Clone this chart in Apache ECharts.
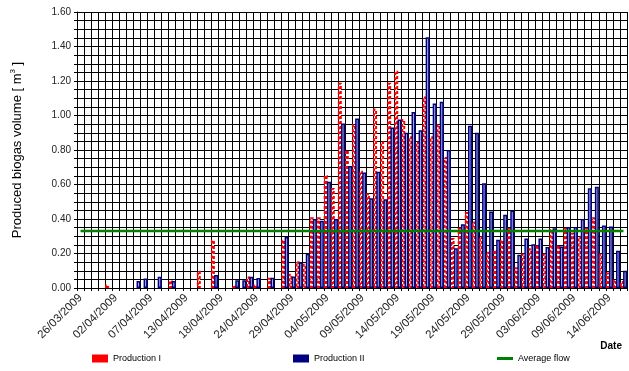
<!DOCTYPE html>
<html>
<head>
<meta charset="utf-8">
<script src="https://cdn.jsdelivr.net/npm/echarts@6/dist/echarts.min.js"></script>
<style>
html,body{margin:0;padding:0;background:#fff}
#mainGraph{width:629px;height:371px}
</style>
</head>
<body>
<div id="mainGraph"></div>
<script>
// one entry per sampling day (some days are missing)
var dates = [
    '26/03/2009','27/03/2009','30/03/2009','31/03/2009','01/04/2009',
    '02/04/2009','03/04/2009','04/04/2009','05/04/2009','06/04/2009',
    '07/04/2009','08/04/2009','09/04/2009','10/04/2009','11/04/2009',
    '13/04/2009','14/04/2009','15/04/2009','16/04/2009','17/04/2009',
    '18/04/2009','20/04/2009','21/04/2009','22/04/2009','23/04/2009',
    '24/04/2009','25/04/2009','26/04/2009','27/04/2009','28/04/2009',
    '29/04/2009','30/04/2009','01/05/2009','02/05/2009','03/05/2009',
    '04/05/2009','05/05/2009','06/05/2009','07/05/2009','08/05/2009',
    '09/05/2009','10/05/2009','11/05/2009','12/05/2009','13/05/2009',
    '14/05/2009','15/05/2009','16/05/2009','17/05/2009','18/05/2009',
    '19/05/2009','20/05/2009','21/05/2009','22/05/2009','23/05/2009',
    '24/05/2009','25/05/2009','26/05/2009','27/05/2009','28/05/2009',
    '29/05/2009','30/05/2009','31/05/2009','01/06/2009','02/06/2009',
    '03/06/2009','04/06/2009','05/06/2009','06/06/2009','08/06/2009',
    '09/06/2009','10/06/2009','11/06/2009','12/06/2009','13/06/2009',
    '14/06/2009','15/06/2009','16/06/2009'
];
var productionI = [
    0, 0, 0, 0, 0.02, 0, 0, 0, 0, 0,
    0, 0, 0, 0.045, 0, 0, 0, 0.10, 0, 0.28,
    0, 0, 0.015, 0, 0.067, 0.02, 0, 0.06, 0, 0.28,
    0.083, 0.155, 0.14, 0.41, 0.41, 0.655, 0.58, 1.19, 0.80, 0.95,
    0.68, 0.55, 1.04, 0.85, 1.19, 1.26, 0.98, 0.88, 0.85, 1.11,
    0.88, 0.95, 0.76, 0.29, 0.35, 0.44, 0.385, 0.30, 0.21, 0.22,
    0.28, 0.35, 0.12, 0.20, 0.23, 0.25, 0.20, 0.34, 0.25, 0.35,
    0.32, 0.30, 0.35, 0.41, 0.20, 0.09, 0.05, 0.04
];
var productionII = [
    0, 0, 0, 0, 0, 0, 0, 0, 0.04, 0.055,
    0, 0.065, 0, 0.04, 0, 0, 0, 0, 0, 0.075,
    0, 0, 0.045, 0.045, 0.065, 0.058, 0, 0.06, 0, 0.295,
    0.067, 0.148, 0.198, 0.40, 0.39, 0.616, 0.40, 0.954, 0.707, 0.983,
    0.67, 0.52, 0.674, 0.514, 0.93, 0.977, 0.90, 1.02, 0.915, 1.454,
    1.07, 1.08, 0.80, 0.23, 0.37, 0.94, 0.90, 0.607, 0.443, 0.28,
    0.424, 0.449, 0.193, 0.287, 0.254, 0.287, 0.237, 0.347, 0.24, 0.353,
    0.353, 0.40, 0.578, 0.587, 0.362, 0.356, 0.216, 0.10
];
var averageFlow = 0.33;
var seriesNames = ['Production I', 'Production II', 'Average flow'];

var fontMain = '"Liberation Sans", Arial, sans-serif';

function hideZero(v) {
    return v === 0 ? '-' : v;
}

var myChart_main = echarts.init(document.getElementById('mainGraph'));

var legendBase = {
    top: 349,
    itemWidth: 16,
    itemHeight: 8,
    textStyle: { fontSize: 9, color: '#000', fontFamily: fontMain },
    selectedMode: false
};

var option = {
    animation: false,
    backgroundColor: '#fff',
    textStyle: { fontFamily: fontMain },
    title: {
        text: 'Date',
        right: 2,
        top: 336,
        textStyle: { fontSize: 10, fontWeight: 'bold', color: '#000', fontFamily: fontMain }
    },
    legend: [
        Object.assign({}, legendBase, {
            left: 87,
            data: [{ name: seriesNames[0], icon: 'rect', itemStyle: { color: '#ff0000', borderWidth: 0 } }]
        }),
        Object.assign({}, legendBase, {
            left: 288,
            data: [{ name: seriesNames[1], icon: 'rect', itemStyle: { color: '#000080', borderWidth: 0 } }]
        }),
        Object.assign({}, legendBase, {
            left: 492,
            itemHeight: 3,
            data: [{ name: seriesNames[2], icon: 'rect', itemStyle: { color: '#008000' } }]
        })
    ],
    grid: {
        left: 77,
        right: 2,
        top: 12,
        bottom: 83,
        outerBoundsMode: 'none'
    },
    xAxis: {
        type: 'category',
        data: dates,
        boundaryGap: true,
        axisLine: { lineStyle: { color: '#000', width: 1 } },
        axisTick: { show: true, interval: 0, length: 3, lineStyle: { color: '#000' } },
        splitLine: { show: true, interval: 0, lineStyle: { color: '#000', width: 1 } },
        axisLabel: {
            interval: 4,
            rotate: 45,
            margin: 8,
            fontSize: 11.5,
            color: '#222',
            fontFamily: fontMain
        }
    },
    yAxis: {
        type: 'value',
        min: 0,
        max: 1.6,
        interval: 0.2,
        name: '{t|Produced biogas volume [ m}{s|3}{t| ]}',
        nameLocation: 'middle',
        nameGap: 52,
        nameTextStyle: {
            rich: {
                t: { fontSize: 13, color: '#000', fontFamily: fontMain, lineHeight: 16 },
                s: { fontSize: 8, color: '#000', fontFamily: fontMain, verticalAlign: 'top', lineHeight: 16 }
            }
        },
        axisLine: { show: true, lineStyle: { color: '#000', width: 1 } },
        axisTick: { show: true, length: 3, lineStyle: { color: '#000' } },
        minorTick: { show: true, splitNumber: 4, length: 3, lineStyle: { color: '#000' } },
        splitLine: { show: true, lineStyle: { color: '#000', width: 1 } },
        minorSplitLine: { show: true, lineStyle: { color: '#000', width: 1 } },
        axisLabel: {
            margin: 6,
            fontSize: 10,
            color: '#222',
            fontFamily: fontMain,
            formatter: function (v) { return v.toFixed(2); }
        }
    },
    series: [
        {
            name: seriesNames[0],
            type: 'bar',
            data: productionI.map(hideZero),
            barWidth: 4,
            barGap: '-20%',
            itemStyle: {
                color: '#ffffff',
                borderColor: '#ff0000',
                borderWidth: 2,
                borderType: [3, 2]
            }
        },
        {
            name: seriesNames[1],
            type: 'bar',
            data: productionII.map(hideZero),
            barWidth: 4,
            barGap: '-20%',
            itemStyle: {
                color: '#a9aedb',
                borderColor: '#000080',
                borderWidth: 1.5
            }
        },
        {
            name: seriesNames[2],
            type: 'line',
            data: dates.map(function () { return averageFlow; }),
            symbol: 'none',
            z: 5,
            lineStyle: { color: '#008000', width: 2.5 },
            itemStyle: { color: '#008000' }
        }
    ]
};

myChart_main.setOption(option);
</script>
</body>
</html>
